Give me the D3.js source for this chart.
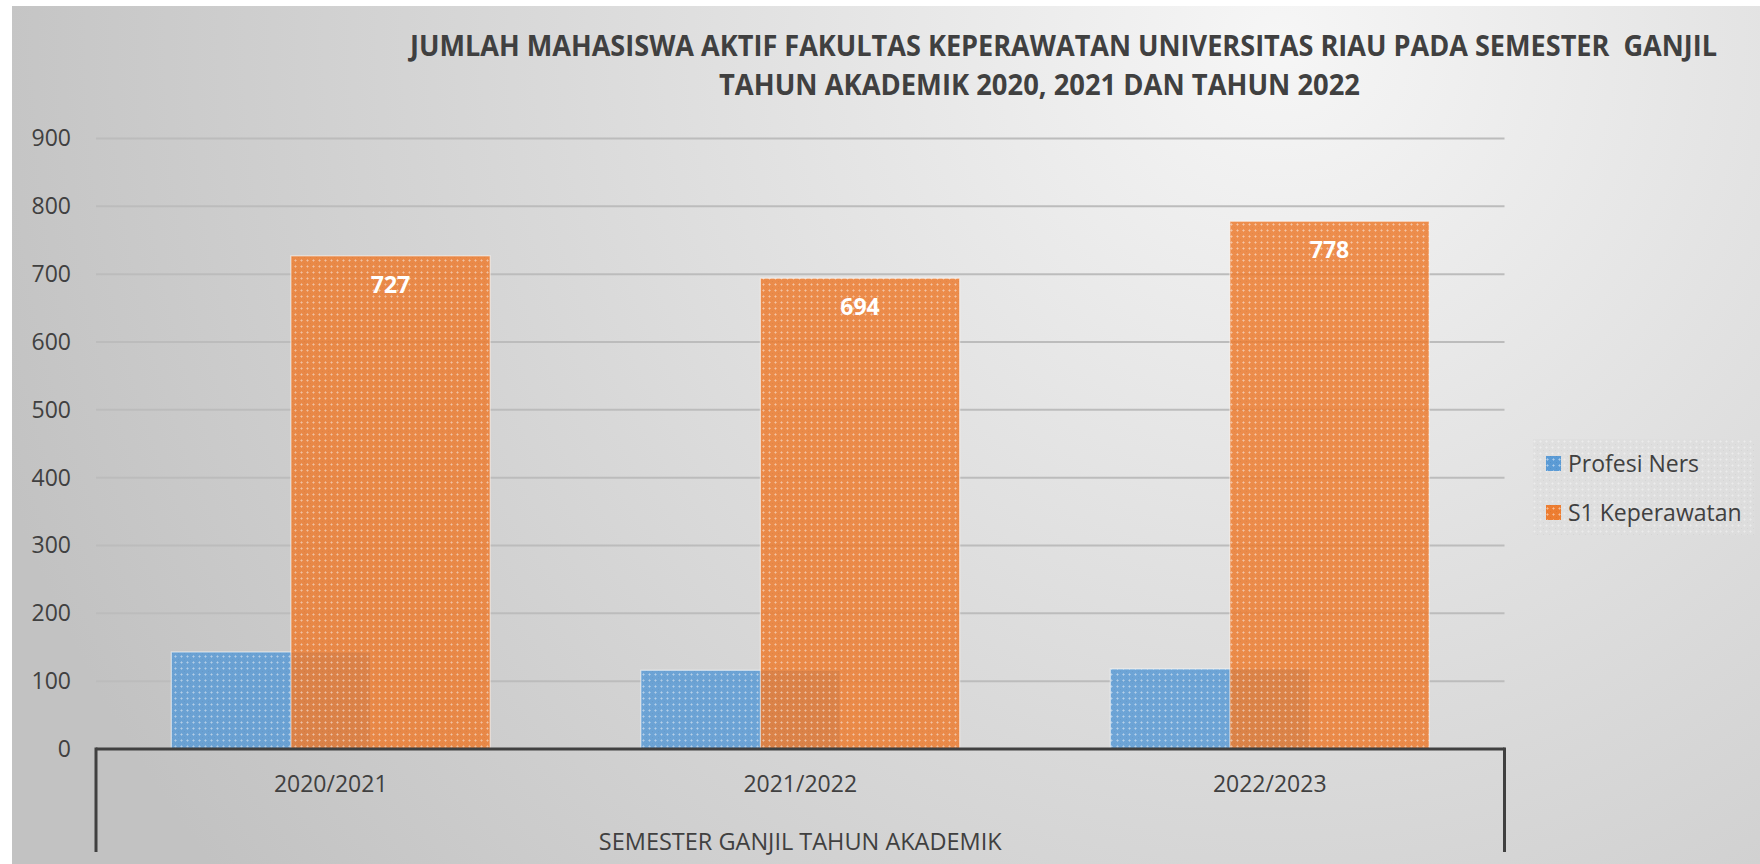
<!DOCTYPE html>
<html>
<head>
<meta charset="utf-8">
<script src="https://cdn.jsdelivr.net/npm/d3@7"></script>
<style>
  body { margin: 0; background: #fff; }
  svg { display: block; }
</style>
</head>
<body>
<div id="chart"></div>
<script>
const CATEGORIES = ['2020/2021', '2021/2022', '2022/2023'];
const PROFESI_NERS = [143, 116, 118];
const S1_KEPERAWATAN = [727, 694, 778];
const SERIES_NAMES = ['Profesi Ners', 'S1 Keperawatan'];
const Y_TICKS = [0, 100, 200, 300, 400, 500, 600, 700, 800, 900];
const TITLE_LINES = [
    'JUMLAH MAHASISWA AKTIF FAKULTAS KEPERAWATAN UNIVERSITAS RIAU PADA SEMESTER  GANJIL',
    'TAHUN AKADEMIK 2020, 2021 DAN TAHUN 2022'
];
const X_TITLE = 'SEMESTER GANJIL TAHUN AKADEMIK';

const WIDTH = 1760;
const HEIGHT = 864;
const FONT = '"Open Sans", "Noto Sans", sans-serif';
const COLORS = ['#5B9BD5', '#ED7D31'];
const TEXT = '#404040';

const plot = { left: 96, right: 1504.5, top: 138.5, bottom: 749 };

const svg = d3.select('#chart').append('svg')
    .attr('width', WIDTH)
    .attr('height', HEIGHT);

const defs = svg.append('defs');

// chart area background, light at the top right, darker at the edges
const bg = defs.append('radialGradient')
    .attr('id', 'bg')
    .attr('gradientUnits', 'userSpaceOnUse')
    .attr('cx', 1280).attr('cy', 40).attr('r', 1350);
bg.append('stop').attr('offset', 0).attr('stop-color', '#f6f6f6');
bg.append('stop').attr('offset', 0.55).attr('stop-color', '#d9d9d9');
bg.append('stop').attr('offset', 1).attr('stop-color', '#c2c2c2');

// dotted grid fill like the excel pattern
function makePattern(id, color) {
    const p = defs.append('pattern')
        .attr('id', id)
        .attr('patternUnits', 'userSpaceOnUse')
        .attr('width', 6).attr('height', 6);
    p.append('rect').attr('width', 6).attr('height', 6).attr('fill', color);
    p.append('rect').attr('x', 0).attr('y', 2).attr('width', 3).attr('height', 1)
        .attr('fill', '#fff').attr('opacity', 0.3);
    p.append('rect').attr('x', 1).attr('y', 1).attr('width', 1).attr('height', 3)
        .attr('fill', '#fff').attr('opacity', 0.3);
    p.append('rect').attr('x', 4).attr('y', 5).attr('width', 1).attr('height', 1)
        .attr('fill', '#000').attr('opacity', 0.06);
}
makePattern('pat0', COLORS[0]);
makePattern('pat1', COLORS[1]);
makePattern('patLegend', '#dedede');

svg.append('rect')
    .attr('x', 12).attr('y', 6)
    .attr('width', WIDTH - 12).attr('height', HEIGHT - 6)
    .attr('fill', 'url(#bg)');

// title
const titleFit = [{ x0: 410, x1: 1717, y: 56 }, { x0: 719, x1: 1360, y: 95 }];
svg.selectAll('text.title')
    .data(TITLE_LINES)
    .enter()
    .append('text')
    .attr('class', 'title')
    .attr('x', (d, i) => titleFit[i].x0)
    .attr('y', (d, i) => titleFit[i].y)
    .attr('textLength', (d, i) => titleFit[i].x1 - titleFit[i].x0)
    .attr('lengthAdjust', 'spacingAndGlyphs')
    .attr('font-family', FONT)
    .attr('font-weight', 700)
    .attr('font-size', 28)
    .attr('fill', TEXT)
    .style('white-space', 'pre')
    .text(d => d);

const x = d3.scaleBand()
    .domain(CATEGORIES)
    .range([plot.left, plot.right])
    .padding(0);

const y = d3.scaleLinear()
    .domain([0, 900])
    .range([plot.bottom, plot.top]);

// excel style gap width 75%, overlap 40%
const GAP = 0.756, OVERLAP = 0.4;
const barW = x.bandwidth() / (2 - OVERLAP + GAP);
const groupW = barW * (2 - OVERLAP);

// gridlines
svg.append('g')
    .selectAll('line')
    .data(Y_TICKS.filter(t => t > 0))
    .enter()
    .append('line')
    .attr('x1', plot.left).attr('x2', plot.right)
    .attr('y1', d => y(d)).attr('y2', d => y(d))
    .attr('stroke', '#bcbcbc')
    .attr('stroke-width', 2);

// y axis labels
const yAxis = svg.append('g')
    .attr('transform', `translate(${plot.left - 25},0)`)
    .call(d3.axisLeft(y).tickValues(Y_TICKS).tickSize(0).tickPadding(0));
yAxis.select('.domain').remove();
yAxis.selectAll('text')
    .attr('font-family', FONT)
    .attr('font-size', 23)
    .attr('fill', TEXT);

const series = [PROFESI_NERS, S1_KEPERAWATAN];

series.forEach((values, s) => {
    svg.append('g')
        .selectAll('rect')
        .data(values)
        .enter()
        .append('rect')
        .attr('x', (d, i) => x(CATEGORIES[i]) + (x.bandwidth() - groupW) / 2 + s * barW * (1 - OVERLAP))
        .attr('y', d => y(d))
        .attr('width', barW)
        .attr('height', d => y(0) - y(d))
        .attr('fill', `url(#pat${s})`)
        .attr('fill-opacity', 0.86)
        .attr('stroke', '#ffffff')
        .attr('stroke-opacity', 0.55)
        .attr('stroke-width', 1.2);
});

// data labels on the S1 bars
svg.append('g')
    .selectAll('text')
    .data(S1_KEPERAWATAN)
    .enter()
    .append('text')
    .attr('x', (d, i) => x(CATEGORIES[i]) + (x.bandwidth() - groupW) / 2 + barW * (1 - OVERLAP) + barW / 2)
    .attr('y', d => y(d) + 37)
    .attr('text-anchor', 'middle')
    .attr('font-family', FONT)
    .attr('font-weight', 700)
    .attr('font-size', 23)
    .attr('fill', '#ffffff')
    .text(d => d);

// category axis with the multi level box lines
const axisColor = '#404040';
svg.append('line')
    .attr('x1', plot.left).attr('x2', plot.right)
    .attr('y1', y(0)).attr('y2', y(0))
    .attr('stroke', axisColor).attr('stroke-width', 3);
[plot.left, plot.right].forEach(px => {
    svg.append('line')
        .attr('x1', px).attr('x2', px)
        .attr('y1', y(0) - 1.5).attr('y2', 852)
        .attr('stroke', axisColor).attr('stroke-width', 3);
});

svg.append('g')
    .selectAll('text')
    .data(CATEGORIES)
    .enter()
    .append('text')
    .attr('x', d => x(d) + x.bandwidth() / 2)
    .attr('y', 792)
    .attr('text-anchor', 'middle')
    .attr('font-family', FONT)
    .attr('font-size', 23)
    .attr('fill', TEXT)
    .text(d => d);

svg.append('text')
    .attr('x', (plot.left + plot.right) / 2)
    .attr('y', 850)
    .attr('text-anchor', 'middle')
    .attr('font-family', FONT)
    .attr('font-size', 23.5)
    .attr('fill', TEXT)
    .text(X_TITLE);

// legend
const legend = svg.append('g').attr('transform', 'translate(1533,439)');
legend.append('rect')
    .attr('width', 222).attr('height', 96)
    .attr('fill', 'url(#patLegend)')
    .attr('fill-opacity', 0.75);

const item = legend.selectAll('g')
    .data(SERIES_NAMES)
    .enter()
    .append('g')
    .attr('transform', (d, i) => `translate(13,${24 + i * 49})`);
item.append('rect')
    .attr('y', -7).attr('width', 15).attr('height', 15)
    .attr('fill', (d, i) => `url(#pat${i})`);
item.append('text')
    .attr('x', 22)
    .attr('y', 8.5)
    .attr('font-family', FONT)
    .attr('font-size', 23)
    .attr('fill', TEXT)
    .text(d => d);
</script>
</body>
</html>
